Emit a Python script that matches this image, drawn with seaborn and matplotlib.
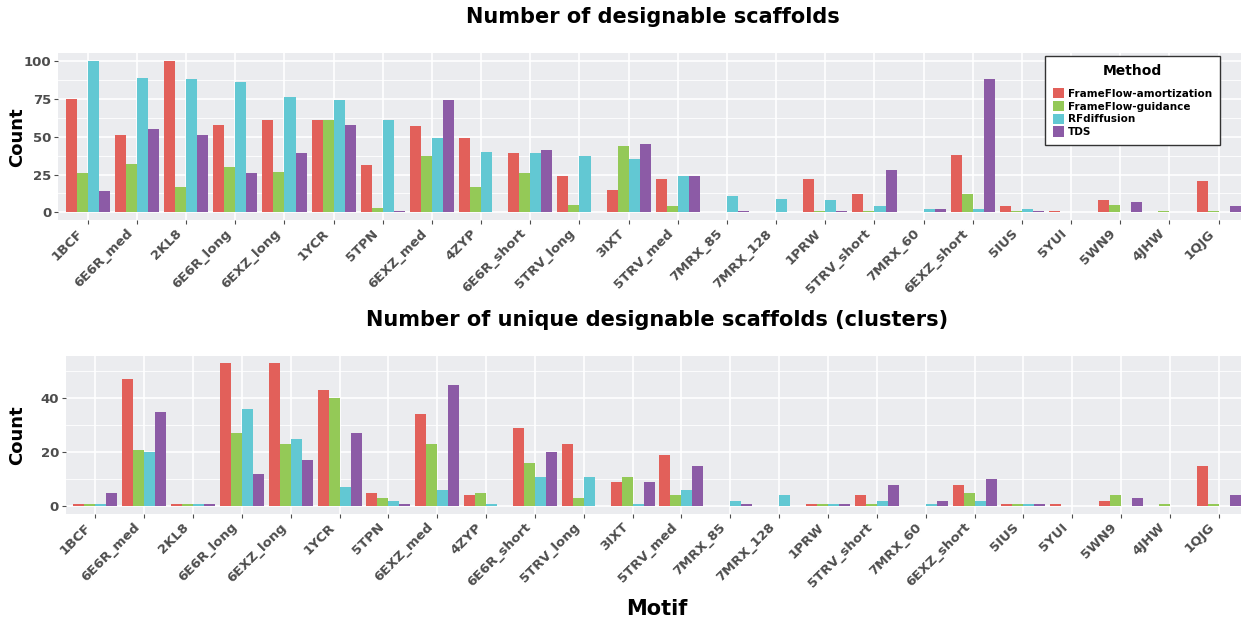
import matplotlib
matplotlib.use("Agg")
import matplotlib.pyplot as plt
from matplotlib.ticker import MultipleLocator
from matplotlib.transforms import ScaledTranslation
import pandas as pd
import seaborn as sns

motifs = ["1BCF", "6E6R_med", "2KL8", "6E6R_long", "6EXZ_long", "1YCR", "5TPN",
          "6EXZ_med", "4ZYP", "6E6R_short", "5TRV_long", "3IXT", "5TRV_med",
          "7MRX_85", "7MRX_128", "1PRW", "5TRV_short", "7MRX_60", "6EXZ_short",
          "5IUS", "5YUI", "5WN9", "4JHW", "1QJG"]
methods = ["FrameFlow-amortization", "FrameFlow-guidance", "RFdiffusion", "TDS"]

# Number of designable scaffolds per motif
designable_amortization = [75, 51, 100, 58, 61, 61, 31, 57, 49, 39, 24, 15, 22, 0, 0, 22, 12, 0, 38, 4, 1, 8, 0, 21]
designable_guidance = [26, 32, 17, 30, 27, 61, 3, 37, 17, 26, 5, 44, 4, 0, 0, 1, 1, 0, 12, 1, 0, 5, 1, 1]
designable_rfdiffusion = [100, 89, 88, 86, 76, 74, 61, 49, 40, 39, 37, 35, 24, 11, 9, 8, 4, 2, 2, 2, 0, 0, 0, 0]
designable_tds = [14, 55, 51, 26, 39, 58, 1, 74, 0, 41, 0, 45, 24, 1, 0, 1, 28, 2, 88, 1, 0, 7, 0, 4]

# Number of unique designable scaffolds (clusters) per motif
clusters_amortization = [1, 47, 1, 53, 53, 43, 5, 34, 4, 29, 23, 9, 19, 0, 0, 1, 4, 0, 8, 1, 1, 2, 0, 15]
clusters_guidance = [1, 21, 1, 27, 23, 40, 3, 23, 5, 16, 3, 11, 4, 0, 0, 1, 1, 0, 5, 1, 0, 4, 1, 1]
clusters_rfdiffusion = [1, 20, 1, 36, 25, 7, 2, 6, 1, 11, 11, 1, 6, 2, 4, 1, 2, 1, 2, 1, 0, 0, 0, 0]
clusters_tds = [5, 35, 1, 12, 17, 27, 1, 45, 0, 20, 0, 9, 15, 1, 0, 1, 8, 2, 10, 1, 0, 3, 0, 4]

palette = ["#E2605A", "#94C957", "#62C8D3", "#8C5BA6"]


def long_table(series):
    rows = []
    for method, values in zip(methods, series):
        for motif, v in zip(motifs, values):
            rows.append({"Motif": motif, "Method": method, "Count": v})
    return pd.DataFrame(rows)


top_df = long_table([designable_amortization, designable_guidance,
                     designable_rfdiffusion, designable_tds])
bottom_df = long_table([clusters_amortization, clusters_guidance,
                        clusters_rfdiffusion, clusters_tds])

plt.rcParams["font.family"] = ["DejaVu Sans"]
plt.rcParams["font.weight"] = "bold"

W, H = 1241, 618
fig = plt.figure(figsize=(W / 100, H / 100), dpi=100)


def px_axes(left, top, right, bottom):
    return fig.add_axes([left / W, 1 - bottom / H, (right - left) / W, (bottom - top) / H])


ax_top = px_axes(58.3, 53.3, 1241, 220)
ax_bot = px_axes(66, 355.7, 1241, 513.7)

tick_grey = "#4D4D4D"
label_shift = ScaledTranslation(-11 / 100, 0, fig.dpi_scale_trans)


def draw(ax, df, ylim, major, minor):
    sns.barplot(data=df, x="Motif", y="Count", hue="Method", order=motifs,
                hue_order=methods, palette=palette, width=0.9, gap=0,
                errorbar=None, ax=ax, legend=True, saturation=1, linewidth=0)
    ax.set_facecolor("#EBECEF")
    for s in ax.spines.values():
        s.set_visible(False)
    ax.set_axisbelow(True)
    ax.yaxis.set_major_locator(MultipleLocator(major))
    ax.yaxis.set_minor_locator(MultipleLocator(minor))
    ax.grid(which="major", axis="both", color="white", linewidth=1.2)
    ax.grid(which="minor", axis="y", color="white", linewidth=0.6)
    ax.set_ylim(*ylim)
    ax.set_xlim(-0.6, 23.455)
    ax.tick_params(axis="both", which="major", length=3, color=tick_grey,
                   labelcolor=tick_grey, labelsize=9.5, pad=2)
    ax.tick_params(axis="y", which="minor", length=0)
    for lab in ax.get_xticklabels():
        lab.set_rotation(45)
        lab.set_ha("right")
        lab.set_va("top")
        lab.set_rotation_mode("anchor")
        lab.set_fontweight("bold")
        lab.set_transform(lab.get_transform() + label_shift)
    for lab in ax.get_yticklabels():
        lab.set_fontweight("bold")
    ax.set_xlabel("")
    ax.set_ylabel("")


draw(ax_top, top_df, (-5, 105), 25, 12.5)
draw(ax_bot, bottom_df, (-2.75, 55.75), 20, 10)

handles, labels = ax_top.get_legend_handles_labels()
ax_top.get_legend().remove()
ax_bot.get_legend().remove()

leg = fig.legend(handles, labels, title="Method", loc="upper right",
                 bbox_to_anchor=(1220 / W, 1 - 56 / H), frameon=True,
                 fancybox=False, edgecolor="#333333", framealpha=1,
                 prop={"size": 7.5, "weight": "bold"},
                 title_fontproperties={"size": 10, "weight": "bold"},
                 handlelength=1.05, handleheight=1.15, handletextpad=0.3,
                 labelspacing=0.2, borderpad=0.8, borderaxespad=0)
leg._legend_box.sep = 7
leg.get_frame().set_linewidth(1.0)

fig.text(653 / W, 1 - 17 / H, "Number of designable scaffolds",
         ha="center", va="center", fontsize=15, fontweight="bold", color="black")
fig.text(657 / W, 1 - 320 / H, "Number of unique designable scaffolds (clusters)",
         ha="center", va="center", fontsize=15, fontweight="bold", color="black")
fig.text(17 / W, 1 - 137 / H, "Count", rotation=90, ha="center", va="center",
         fontsize=13, fontweight="bold", color="black")
fig.text(17 / W, 1 - 435 / H, "Count", rotation=90, ha="center", va="center",
         fontsize=13, fontweight="bold", color="black")
fig.text(657 / W, 1 - 609 / H, "Motif", ha="center", va="center",
         fontsize=15, fontweight="bold", color="black")

fig.savefig("out.png", dpi=100)
